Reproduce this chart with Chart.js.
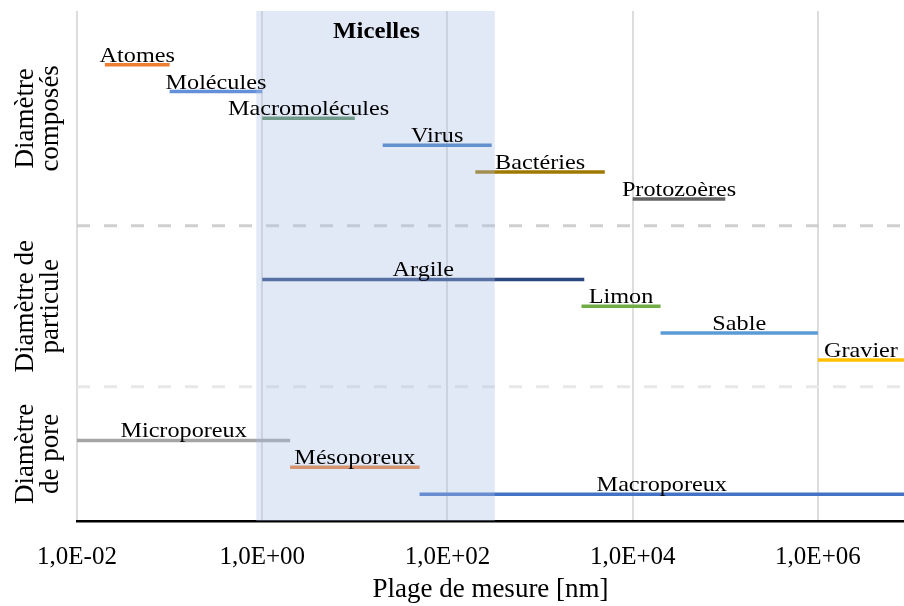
<!DOCTYPE html>
<html>
<head>
<meta charset="utf-8">
<script src="https://cdn.jsdelivr.net/npm/chart.js@4.4.1/dist/chart.umd.min.js"></script>
<style>
  html, body { margin: 0; padding: 0; background: #ffffff; }
  #wrap { width: 904px; height: 606px; }
</style>
</head>
<body>
<div id="wrap"><canvas id="c" width="904" height="606"></canvas></div>
<script>
// ---- data ----
const categories = ['Atomes', 'Molécules', 'Macromolécules', 'Virus', 'Bactéries', 'Protozoères',
                    'Argile', 'Limon', 'Sable', 'Gravier',
                    'Microporeux', 'Mésoporeux', 'Macroporeux'];
const rows = [17, 16, 15, 14, 13, 12, 9, 8, 7, 6, 3, 2, 1];
const rangeMin = [0.02, 0.1, 1, 20, 200, 1e4, 1, 2800, 2e4, 1e6, 0.01, 2, 50];
const rangeMax = [0.1, 1, 10, 300, 5000, 1e5, 3000, 2e4, 1e6, 1e7, 2, 50, 1e7];
const colors = ['#ED7D31', '#6490DA', '#55875A', '#3F78C0', '#A07800', '#636363',
                '#2A4782', '#70AD47', '#5B9BD5', '#FFC000',
                '#A5A5A5', '#ED7D31', '#4472C4'];
const groupNames = [['Diamètre', 'composés'], ['Diamètre de', 'particule'], ['Diamètre', 'de pore']];
const groupBounds = [19, 11, 5, 0];
const separatorRows = [11, 5];
const separatorColors = ['#CFCFCF', '#E8E8E8'];
const micelles = [0.86, 325];
const micellesLabel = 'Micelles';
const xTicks = [1e-2, 1e0, 1e2, 1e4, 1e6];
const X_MIN = 1e-2, X_MAX = 8.5e6, Y_MIN = 0, Y_MAX = 19;
const xTitle = 'Plage de mesure [nm]';

// ---- datasets ----
const datasets = [];
// Micelles band (drawn on top, semi-transparent)
datasets.push({
  label: micellesLabel,
  data: [{x: micelles[0], y: Y_MAX}, {x: micelles[1], y: Y_MAX}],
  showLine: true, borderWidth: 0, pointRadius: 0,
  fill: 'origin', backgroundColor: 'rgba(170,188,228,0.35)', borderColor: 'rgba(0,0,0,0)'
});
categories.forEach((c, i) => {
  datasets.push({
    label: c,
    data: [{x: rangeMin[i], y: rows[i]}, {x: Math.min(rangeMax[i], X_MAX), y: rows[i]}],
    showLine: true, borderColor: colors[i], borderWidth: 3.5, pointRadius: 0,
    borderCapStyle: 'butt', fill: false
  });
});
separatorRows.forEach((r, i) => {
  datasets.push({
    label: 'sep' + i,
    data: [{x: X_MIN, y: r}, {x: X_MAX, y: r}],
    showLine: true, borderColor: separatorColors[i], borderWidth: 3, borderDash: [13, 14],
    pointRadius: 0, fill: false
  });
});

const SERIF = '"Liberation Serif", "Times New Roman", serif';

function drawStretched(ctx, text, cx, y, sx) {
  ctx.save();
  ctx.translate(cx, y);
  ctx.scale(sx, 1);
  ctx.fillText(text, 0, 0);
  ctx.restore();
}

const labelPlugin = {
  id: 'labels',
  afterDatasetsDraw(chart) {
    const ctx = chart.ctx, xs = chart.scales.x, ys = chart.scales.y, area = chart.chartArea;
    ctx.save();
    ctx.fillStyle = '#000';
    ctx.textBaseline = 'alphabetic';
    ctx.textAlign = 'center';
    const sx = 1.1;
    ctx.font = '22px ' + SERIF;
    categories.forEach((c, i) => {
      const x1 = Math.max(xs.getPixelForValue(rangeMin[i]), area.left);
      const x2 = Math.min(xs.getPixelForValue(Math.min(rangeMax[i], X_MAX)), area.right);
      let cx = (x1 + x2) / 2;
      const w = ctx.measureText(c).width * sx;
      if (cx + w / 2 > area.right) cx = area.right - w / 2;
      const y = ys.getPixelForValue(rows[i]) - 3;
      drawStretched(ctx, c, cx, y, sx);
    });
    // Micelles label
    ctx.font = 'bold 23px ' + SERIF;
    const mx = (xs.getPixelForValue(micelles[0]) + xs.getPixelForValue(micelles[1])) / 2;
    drawStretched(ctx, micellesLabel, mx + 1, area.top + 27, 1.08);
    ctx.restore();

    // group labels (rotated) in left margin
    ctx.save();
    ctx.fillStyle = '#000';
    ctx.font = '27px ' + SERIF;
    ctx.textAlign = 'center';
    ctx.textBaseline = 'alphabetic';
    groupNames.forEach((lines, g) => {
      const yc = ys.getPixelForValue((groupBounds[g] + groupBounds[g + 1]) / 2);
      lines.forEach((ln, k) => {
        ctx.save();
        ctx.translate(33 + k * 25, yc);
        ctx.rotate(-Math.PI / 2);
        ctx.fillText(ln, 0, 0);
        ctx.restore();
      });
    });
    ctx.restore();
  }
};

function fmtTick(v) {
  const e = Math.round(Math.log10(v));
  return '1,0E' + (e < 0 ? '-' : '+') + String(Math.abs(e)).padStart(2, '0');
}

new Chart(document.getElementById('c'), {
  type: 'scatter',
  data: { datasets },
  options: {
    responsive: false,
    animation: false,
    devicePixelRatio: 1,
    layout: { padding: { top: 11, right: 0, left: 0, bottom: 0 } },
    plugins: { legend: { display: false }, tooltip: { enabled: false } },
    scales: {
      x: {
        type: 'logarithmic', position: 'bottom', min: X_MIN, max: X_MAX,
        afterBuildTicks: (s) => { s.ticks = xTicks.map(v => ({ value: v })); },
        afterFit: (s) => { s.height = 85; },
        grid: { color: '#DDDDDD', lineWidth: 2, drawTicks: false },
        border: { display: true, color: '#000000', width: 2.5 },
        ticks: {
          font: { family: SERIF, size: 25 }, color: '#000', padding: 21,
          maxRotation: 0, autoSkip: false, callback: (v) => fmtTick(v)
        },
        title: {
          display: true, text: xTitle, color: '#000',
          font: { family: SERIF, size: 27 }, padding: { top: 0, bottom: 0 }
        }
      },
      y: {
        type: 'linear', position: 'left', min: Y_MIN, max: Y_MAX,
        afterFit: (s) => { s.width = 77; },
        grid: { display: false },
        border: { display: false },
        ticks: { display: false }
      }
    }
  },
  plugins: [labelPlugin]
});
</script>
</body>
</html>
